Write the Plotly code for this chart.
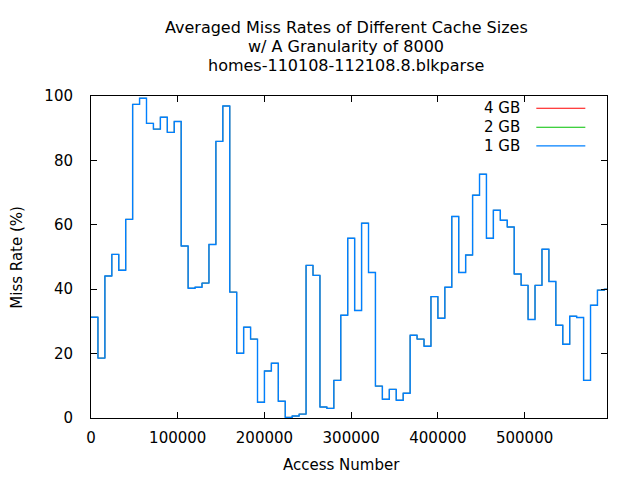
import numpy as np
import plotly.graph_objects as go

granularity = 8000
series_names = ["4 GB", "2 GB", "1 GB"]
series_colors = ["#ff0000", "#00c000", "#0080ff"]

miss_rate_1gb = [31.3, 18.6, 44.1, 50.8, 45.9, 61.7, 97.4, 99.3, 91.5, 89.7,
                 93.4, 88.7, 92.1, 53.4, 40.3, 40.6, 41.9, 53.9, 85.9, 96.9,
                 39.1, 20.1, 28.2, 24.5, 4.9, 14.6, 17.0, 5.2, 0.2, 0.6,
                 1.2, 47.4, 44.3, 3.4, 3.0, 11.7, 31.9, 55.8, 33.4, 60.5,
                 45.2, 9.9, 5.8, 8.9, 5.5, 7.7, 25.7, 24.5, 22.3, 37.7,
                 31.0, 40.6, 62.6, 45.2, 50.6, 69.2, 75.7, 55.8, 64.5, 61.4,
                 59.3, 44.7, 41.2, 30.6, 41.2, 52.4, 42.4, 28.8, 22.9, 31.6,
                 31.2, 11.7, 35.0, 39.7, 40.0]
miss_rate_2gb = list(miss_rate_1gb)
miss_rate_4gb = list(miss_rate_1gb)

title_lines = ["Averaged Miss Rates of Different Cache Sizes",
               "w/ A Granularity of 8000",
               "homes-110108-112108.8.blkparse"]
x_ticks = [0, 100000, 200000, 300000, 400000, 500000]
y_ticks = [0, 20, 40, 60, 80, 100]
x_max = 595000

FONT = "DejaVu Sans"
FS = 15

fig = go.Figure()
for name, color, vals, w in zip(series_names, series_colors,
                                [miss_rate_4gb, miss_rate_2gb, miss_rate_1gb],
                                [0.6, 0.6, 1.4]):
    x = np.arange(len(vals) + 1) * granularity
    y = list(vals) + [vals[-1]]
    fig.add_trace(go.Scatter(x=x, y=y, mode="lines", name=name,
                             line=dict(color=color, width=w, shape="hv"),
                             showlegend=False))

# gnuplot-style legend (text right-aligned, sample on the right)
legend_y = [0.962, 0.903, 0.845]
for name, color, ly in zip(series_names, series_colors, legend_y):
    fig.add_annotation(text=name, xref="paper", yref="paper", x=0.835, y=ly,
                       xanchor="right", yanchor="middle", showarrow=False,
                       font=dict(family=FONT, size=FS, color="#000"))
    fig.add_shape(type="line", xref="paper", yref="paper",
                  x0=0.863, x1=0.958, y0=ly, y1=ly,
                  line=dict(color=color, width=1.2))

# three-line title, gnuplot spacing
for txt, ty in zip(title_lines, [1.214, 1.155, 1.096]):
    fig.add_annotation(text=txt, xref="paper", yref="paper", x=0.495, y=ty,
                       xanchor="center", yanchor="middle", showarrow=False,
                       font=dict(family=FONT, size=16, color="#000"))

fig.add_annotation(text="Access Number", xref="paper", yref="paper",
                   x=0.485, y=-0.146, xanchor="center", yanchor="middle",
                   showarrow=False, font=dict(family=FONT, size=FS, color="#000"))
fig.add_annotation(text="Miss Rate (%)", xref="paper", yref="paper",
                   x=-0.144, y=0.5, xanchor="center", yanchor="middle",
                   textangle=-90, showarrow=False,
                   font=dict(family=FONT, size=FS, color="#000"))

# page body has an 8px margin: shrink the figure so it fills the 640x480 window
fig.update_layout(
    width=632, height=472,
    paper_bgcolor="white", plot_bgcolor="white",
    margin=dict(l=83, r=33, t=88, b=62),
    font=dict(family=FONT, size=FS, color="#000"),
)
fig.update_xaxes(range=[0, x_max], tickvals=x_ticks, tickformat="d",
                 ticks="inside", ticklen=6, tickcolor="#000",
                 showline=True, linecolor="#000", linewidth=1, mirror="ticks",
                 showgrid=False, zeroline=False, ticklabelstandoff=6,
                 automargin=False)
fig.update_yaxes(range=[0, 100], tickvals=y_ticks,
                 ticks="inside", ticklen=6, tickcolor="#000",
                 showline=True, linecolor="#000", linewidth=1, mirror="ticks",
                 showgrid=False, zeroline=False, ticklabelstandoff=14,
                 automargin=False)

fig.write_html("out.html")
